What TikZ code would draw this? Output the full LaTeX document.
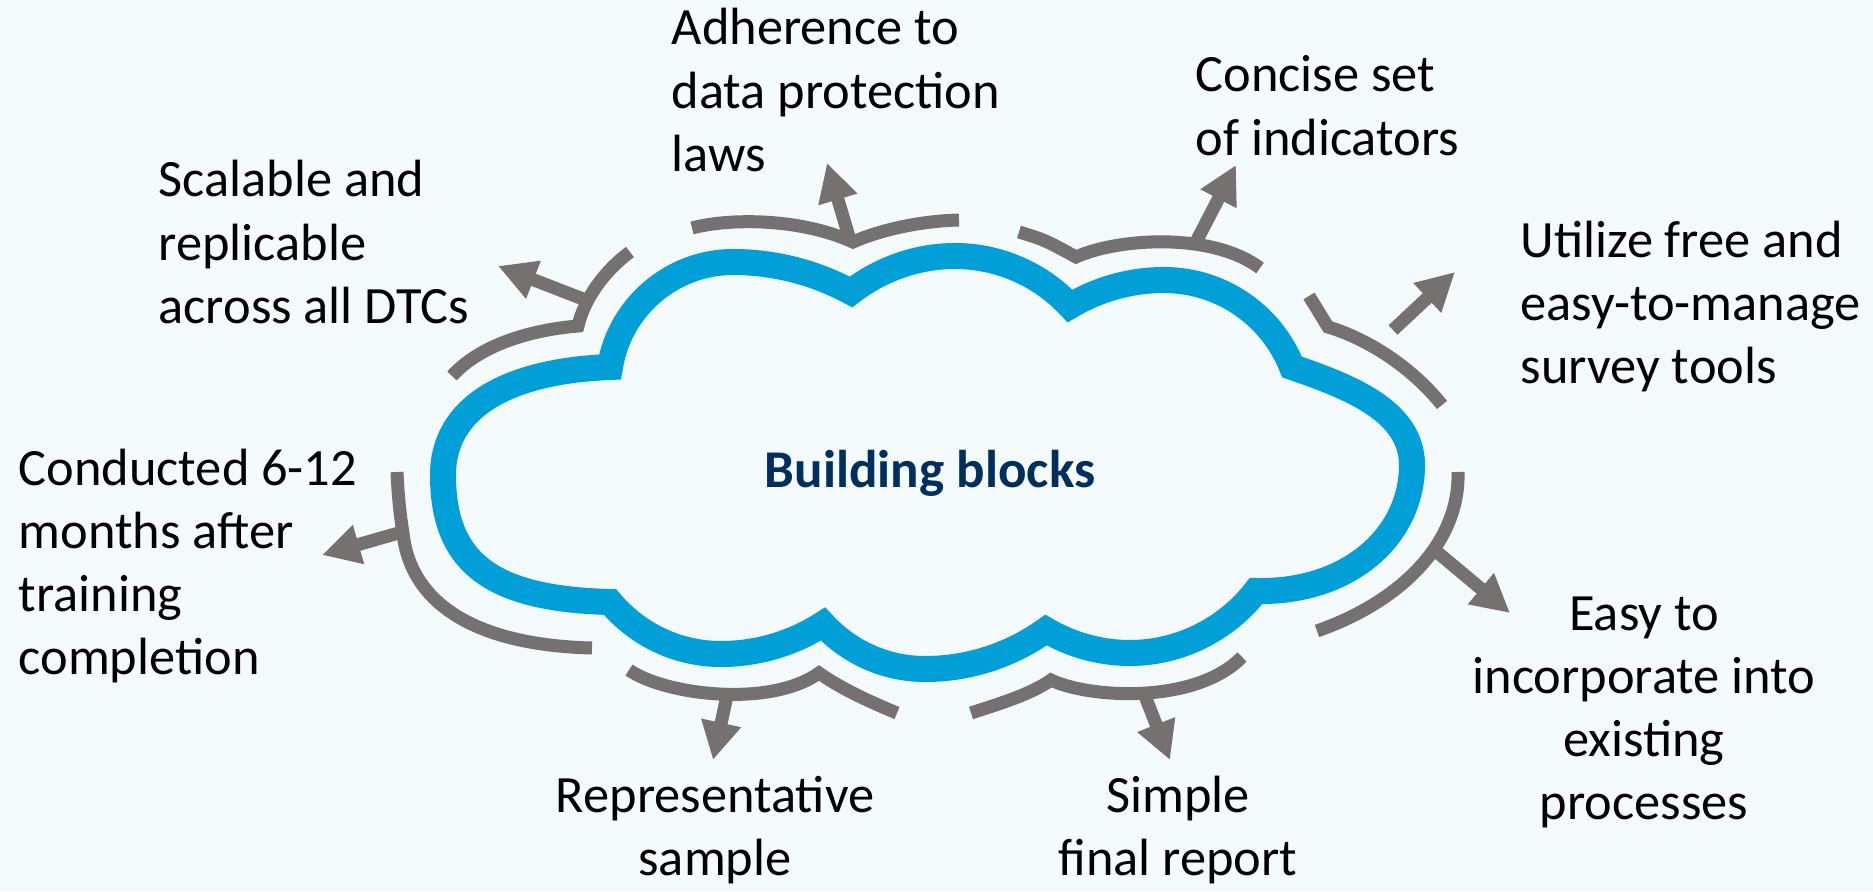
\documentclass[tikz,border=0pt]{standalone}
\usepackage{fontspec}
\setmainfont{Carlito}
\usetikzlibrary{arrows.meta}
\definecolor{bgc}{RGB}{244,249,252}
\definecolor{cloudblue}{RGB}{0,159,215}
\definecolor{arcgrey}{RGB}{118,113,113}
\definecolor{navy}{RGB}{0,46,93}
\begin{document}
\begin{tikzpicture}[x=0.01cm,y=-0.01cm,
  cloudline/.style={draw=cloudblue, line width=0.26cm, line join=miter, miter limit=10},
  arcline/.style={draw=arcgrey, line width=0.13cm, line join=miter, miter limit=10},
  garrow/.style={draw=arcgrey, line width=0.13cm, -{Triangle[length=0.38cm,width=0.38cm]}},
  lbl/.style={inner sep=0pt, font=\fontsize{14.9pt}{18pt}\selectfont},
  title/.style={inner sep=0pt, text=navy, font=\fontsize{15.1pt}{18pt}\selectfont\bfseries}]
\fill[bgc] (0,0) rectangle (1873,891);
\path[use as bounding box] (0,0) rectangle (1873,891);

% cloud
\draw[cloudline] (610,367)
 .. controls +(9.6,-60) and +(-61,0) .. (733,262)
 .. controls +(41,0) and +(-36,-19.6) .. (851,292)
 .. controls +(29.5,-23) and +(-37.5,0) .. (955,256)
 .. controls +(43.5,0) and +(-29.6,-31.8) .. (1070,306)
 .. controls +(28.5,-17) and +(-33,0) .. (1164,280)
 .. controls +(56.5,0) and +(-20.8,-52.5) .. (1292,367)
 .. controls +(55,19) and +(0,-55) .. (1412,465)
 .. controls +(0,70) and +(94,2) .. (1256,591)
 .. controls +(-30,38.7) and +(49,0) .. (1130,653)
 .. controls +(-29.5,0) and +(25.4,15) .. (1046,630)
 .. controls +(-35.3,25.4) and +(43.5,0) .. (925,669)
 .. controls +(-38.8,0) and +(26.2,28.7) .. (823,624)
 .. controls +(-30.3,19.6) and +(36,0) .. (721,654)
 .. controls +(-43.2,0) and +(27.9,33) .. (610,602)
 .. controls +(-117,-3) and +(0,89) .. (443,475)
 .. controls +(0,-67) and +(-104,4) .. cycle;

% grey arcs
\draw[arcline] (452,376) .. controls (480,345) and (530,330) .. (578,326)
  .. controls (584,300) and (603,272) .. (630,252);
\draw[arcline] (692,228) .. controls (730,218) and (800,218) .. (853,242)
  .. controls (880,230) and (920,221) .. (959,220);
\draw[arcline] (1019,232) .. controls (1045,240) .. (1076,257)
  .. controls (1118,238) and (1212,232) .. (1260,268);
\draw[arcline] (1309,296) -- (1328,327)
  .. controls (1365,338) and (1410,365) .. (1442,405);
\draw[arcline] (397,472) .. controls (398,495) and (400,515) .. (403,533)
  .. controls (410,600) and (470,645) .. (592,648);
\draw[arcline] (629,670) .. controls (665,695) and (770,708) .. (819,673)
  .. controls (840,688) and (870,702) .. (897,713);
\draw[arcline] (971,713) .. controls (995,705) and (1030,695) .. (1051,680)
  .. controls (1088,698) and (1195,705) .. (1242,657);
\draw[arcline] (1458,472) .. controls (1460,540) and (1405,600) .. (1317,631);

% arrow coordinates
\coordinate (s1) at (583,299);   \coordinate (t1) at (498,266);
\coordinate (s2) at (850,240);   \coordinate (t2) at (827,163);
\coordinate (s3) at (1197,240);  \coordinate (t3) at (1236,165);
\coordinate (s4) at (1393,330);  \coordinate (t4) at (1455,272);
\coordinate (s5) at (402,532);   \coordinate (t5) at (322,555);
\coordinate (s6) at (727,696);   \coordinate (t6) at (713,760);
\coordinate (s7) at (1145,696);  \coordinate (t7) at (1170,760);
\coordinate (s8) at (1437,552);  \coordinate (t8) at (1510,613);
\foreach \i in {1,...,8} \draw[garrow] (s\i) -- (t\i);

% labels
\node[lbl, anchor=base west] (adh) at (671,45) {\begin{tabular}[t]{@{}l@{}}Adherence to\\data protection\\laws\end{tabular}};
\node[lbl, anchor=base west] (con) at (1195,92) {\begin{tabular}[t]{@{}l@{}}Concise set\\of indicators\end{tabular}};
\node[lbl, anchor=base west] (sca) at (158,197) {\begin{tabular}[t]{@{}l@{}}Scalable and\\replicable\\across all DTCs\end{tabular}};
\node[lbl, anchor=base west] (uti) at (1520,257) {\begin{tabular}[t]{@{}l@{}}Utilize free and\\easy-to-manage\\survey tools\end{tabular}};
\node[lbl, anchor=base west] (cdu) at (18,485) {\begin{tabular}[t]{@{}l@{}}Conducted 6-12\\months after\\training\\completion\end{tabular}};
\node[lbl, anchor=base] (eas) at (1644,630) {\begin{tabular}[t]{@{}c@{}}Easy to\\incorporate into\\existing\\processes\end{tabular}};
\node[lbl, anchor=base] (rep) at (715,812) {\begin{tabular}[t]{@{}c@{}}Representative\\sample\end{tabular}};
\node[lbl, anchor=base] (sim) at (1178,812) {\begin{tabular}[t]{@{}c@{}}Simple\\final report\end{tabular}};
\node[title, anchor=base] (bb) at (930,487) {Building blocks};
\end{tikzpicture}
\end{document}
